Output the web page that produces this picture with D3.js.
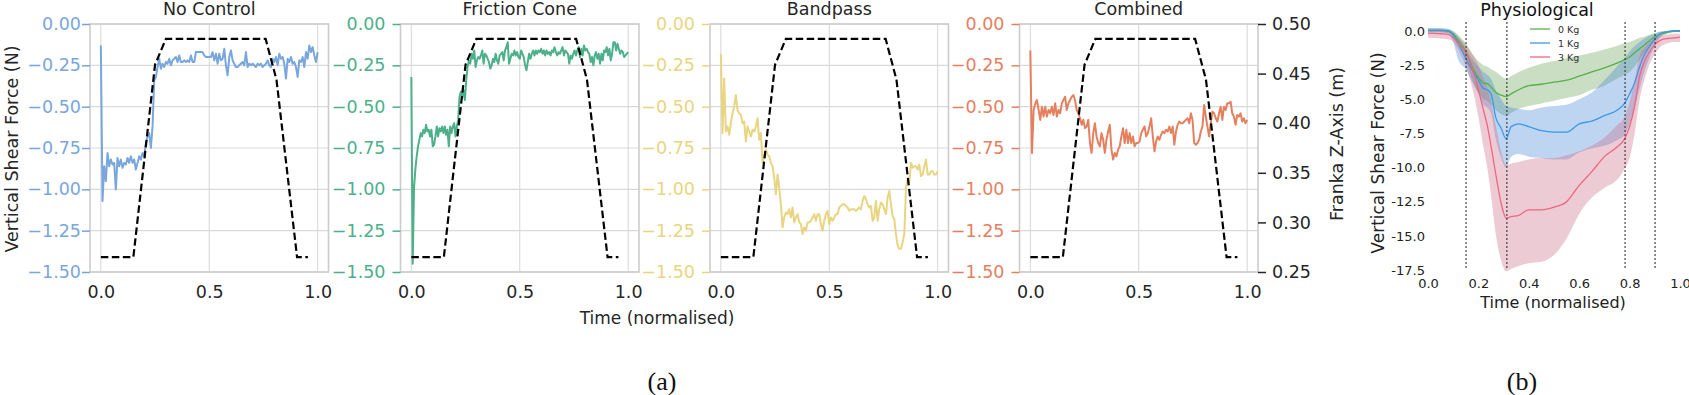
<!DOCTYPE html>
<html><head><meta charset="utf-8">
<script src="https://cdn.jsdelivr.net/npm/d3@7"></script>
<style>
body{margin:0;background:#fff}
svg{display:block}
text{font-family:"DejaVu Sans",sans-serif}
</style>
</head><body>
<svg id="c" width="1689" height="395"></svg>
<script>
// ---------- data: panel (a) ----------
const panelTitles = ["No Control", "Friction Cone", "Bandpass", "Combined"];
const timeTicks = [0, 0.5, 1];
const forceTicks = [0, -0.25, -0.5, -0.75, -1.0, -1.25, -1.5];
const zTicks = [0.25, 0.30, 0.35, 0.40, 0.45, 0.50];

const noControl = [-0.13,-1.07,-0.86,-0.95,-0.78,-0.86,-0.82,-0.85,-0.84,-1.00,-0.81,-0.86,-0.82,-0.87,-0.84,-0.85,-0.81,-0.84,-0.80,-0.84,-0.82,-0.88,-0.84,-0.80,-0.82,-0.78,-0.80,-0.72,-0.68,-0.66,-0.75,-0.62,-0.34,-0.32,-0.26,-0.21,-0.27,-0.24,-0.26,-0.23,-0.24,-0.21,-0.25,-0.22,-0.21,-0.20,-0.23,-0.19,-0.23,-0.23,-0.22,-0.23,-0.22,-0.23,-0.19,-0.23,-0.23,-0.17,-0.17,-0.17,-0.17,-0.17,-0.19,-0.20,-0.20,-0.20,-0.20,-0.17,-0.22,-0.18,-0.24,-0.18,-0.22,-0.21,-0.15,-0.25,-0.31,-0.20,-0.16,-0.22,-0.24,-0.26,-0.26,-0.25,-0.24,-0.23,-0.25,-0.17,-0.26,-0.24,-0.25,-0.24,-0.25,-0.26,-0.24,-0.25,-0.24,-0.26,-0.25,-0.24,-0.22,-0.25,-0.26,-0.21,-0.23,-0.20,-0.25,-0.18,-0.21,-0.20,-0.24,-0.33,-0.21,-0.23,-0.20,-0.24,-0.23,-0.26,-0.32,-0.22,-0.23,-0.20,-0.26,-0.17,-0.21,-0.13,-0.17,-0.14,-0.19,-0.23,-0.17];

const frictionCone = [-0.32,-1.45,-0.99,-0.88,-0.80,-0.74,-0.70,-0.66,-0.68,-0.64,-0.66,-0.61,-0.65,-0.64,-0.68,-0.64,-0.74,-0.73,-0.68,-0.62,-0.68,-0.63,-0.65,-0.62,-0.66,-0.62,-0.67,-0.64,-0.74,-0.62,-0.66,-0.62,-0.60,-0.68,-0.62,-0.58,-0.44,-0.41,-0.44,-0.40,-0.46,-0.34,-0.26,-0.22,-0.24,-0.18,-0.21,-0.16,-0.26,-0.22,-0.20,-0.21,-0.19,-0.16,-0.24,-0.18,-0.19,-0.21,-0.23,-0.27,-0.25,-0.21,-0.23,-0.18,-0.22,-0.24,-0.19,-0.18,-0.17,-0.22,-0.16,-0.14,-0.11,-0.24,-0.21,-0.18,-0.19,-0.16,-0.19,-0.17,-0.20,-0.21,-0.16,-0.18,-0.20,-0.25,-0.28,-0.23,-0.18,-0.21,-0.18,-0.16,-0.19,-0.16,-0.18,-0.16,-0.17,-0.15,-0.18,-0.16,-0.19,-0.16,-0.18,-0.17,-0.19,-0.16,-0.17,-0.14,-0.17,-0.19,-0.17,-0.18,-0.16,-0.14,-0.19,-0.16,-0.17,-0.18,-0.24,-0.19,-0.21,-0.18,-0.16,-0.19,-0.16,-0.14,-0.20,-0.15,-0.19,-0.13,-0.16,-0.15,-0.17,-0.18,-0.23,-0.20,-0.25,-0.19,-0.17,-0.21,-0.18,-0.24,-0.18,-0.22,-0.16,-0.17,-0.14,-0.19,-0.15,-0.22,-0.18,-0.11,-0.11,-0.16,-0.12,-0.15,-0.18,-0.16,-0.17,-0.20,-0.19,-0.18,-0.17];

const bandpass = [-0.18,-0.66,-0.33,-0.65,-0.62,-0.67,-0.60,-0.54,-0.50,-0.43,-0.52,-0.54,-0.55,-0.60,-0.59,-0.71,-0.62,-0.65,-0.68,-0.64,-0.65,-0.62,-0.57,-0.70,-0.66,-0.84,-0.80,-0.76,-0.79,-0.80,-0.84,-0.86,-0.93,-1.03,-0.91,-0.99,-1.09,-1.23,-1.17,-1.14,-1.15,-1.12,-1.17,-1.11,-1.20,-1.17,-1.15,-1.20,-1.21,-1.27,-1.23,-1.25,-1.20,-1.20,-1.19,-1.17,-1.15,-1.19,-1.15,-1.15,-1.21,-1.25,-1.19,-1.15,-1.13,-1.21,-1.17,-1.19,-1.17,-1.15,-1.15,
  -1.11,-1.10,-1.09,-1.09,-1.10,-1.11,-1.13,-1.12,-1.12,-1.12,-1.13,-1.12,-1.11,-1.12,-1.07,-1.04,-1.06,-1.09,-1.11,-1.10,-1.19,-1.17,-1.07,-1.19,-1.12,-1.08,-1.09,-1.12,-1.15,-1.05,-1.01,-1.09,-1.16,-1.18,-1.27,-1.34,-1.36,-1.36,-1.32,-1.27,-0.99,-0.94,-0.96,-0.84,-0.87,-0.86,-0.86,-0.88,-0.85,-0.92,-0.91,-0.86,-0.82,-0.91,-0.91,-0.89,-0.89,-0.91,-0.91,-0.89];

const combined = [-0.16,-0.78,-0.52,-0.48,-0.46,-0.52,-0.58,-0.50,-0.56,-0.50,-0.56,-0.52,-0.54,-0.50,-0.55,-0.48,-0.56,-0.52,-0.54,-0.48,-0.46,-0.44,-0.52,-0.48,-0.46,-0.44,-0.43,-0.46,-0.52,-0.54,-0.57,-0.61,-0.58,-0.63,-0.62,-0.58,-0.72,-0.78,-0.66,-0.60,-0.68,-0.72,-0.74,-0.66,-0.70,-0.78,-0.70,-0.65,-0.61,-0.76,-0.82,-0.78,-0.80,-0.76,-0.74,-0.68,-0.63,-0.72,-0.64,-0.72,-0.66,-0.72,-0.68,-0.74,-0.72,-0.72,-0.71,-0.66,-0.64,-0.62,-0.68,-0.66,-0.62,-0.57,-0.68,-0.77,-0.71,-0.68,-0.70,-0.67,-0.65,-0.66,-0.64,-0.65,-0.62,-0.66,-0.62,-0.73,-0.65,-0.61,-0.59,-0.60,-0.60,-0.59,-0.58,-0.57,-0.60,-0.54,-0.58,-0.72,-0.73,-0.72,-0.70,-0.65,-0.62,-0.49,-0.56,-0.62,-0.68,-0.60,-0.53,-0.54,-0.57,-0.59,-0.54,-0.50,-0.58,-0.50,-0.52,-0.48,-0.48,-0.47,-0.54,-0.56,-0.61,-0.55,-0.56,-0.54,-0.59,-0.57,-0.60,-0.58];

const forceSeries = [noControl, frictionCone, bandpass, combined];
const seriesColors = ["#79a6dc", "#4cb08b", "#e9d581", "#e5805f"];

// Franka Z trajectory (right axis), shared by all panels
const frankaTime = [0, 0.15, 0.25, 0.30, 0.76, 0.81, 0.905, 0.955];
const frankaZ    = [0.265, 0.265, 0.459, 0.485, 0.485, 0.444, 0.265, 0.265];

// ---------- data: panel (b) ----------
const physTime = [0,0.05,0.08,0.1,0.12,0.15,0.18,0.2,0.22,0.235,0.25,0.27,0.29,0.31,0.33,0.36,0.4,0.45,0.5,0.55,0.6,0.65,0.7,0.75,0.78,0.8,0.82,0.84,0.86,0.88,0.9,0.92,0.95,0.98,1.0];
const physLabels = ["0 Kg", "1 Kg", "3 Kg"];
const mean0 = [0.05,0.05,0.0,-0.2,-0.7,-1.5,-2.8,-3.4,-3.8,-3.85,-4.1,-4.5,-4.7,-4.8,-4.6,-4.3,-4.0,-3.9,-3.75,-3.6,-3.3,-3.0,-2.7,-2.35,-2.1,-1.9,-1.6,-1.3,-1.0,-0.7,-0.4,-0.25,-0.1,0.0,0.0];
const upper0 = [0.2,0.2,0.15,0.0,-0.3,-0.9,-1.8,-2.2,-2.5,-2.6,-2.8,-3.0,-3.3,-3.5,-3.3,-3.0,-2.7,-2.4,-2.2,-2.0,-1.8,-1.6,-1.35,-1.1,-0.9,-0.8,-0.65,-0.5,-0.4,-0.25,-0.15,-0.05,0.0,0.1,0.1];
const lower0 = [-0.1,-0.1,-0.15,-0.45,-1.1,-2.1,-3.8,-4.5,-5.0,-5.1,-5.4,-5.8,-6.1,-6.2,-6.0,-5.7,-5.5,-5.3,-5.1,-4.9,-4.7,-4.3,-4.0,-3.5,-3.2,-3.0,-2.6,-2.1,-1.6,-1.15,-0.75,-0.45,-0.2,-0.1,-0.1];
const mean1 = [0.05,0.05,0.0,-0.3,-0.9,-2.0,-3.0,-3.6,-4.2,-4.3,-4.6,-6.4,-7.1,-7.9,-7.0,-6.8,-7.0,-7.3,-7.4,-7.4,-6.8,-6.6,-6.2,-5.8,-5.3,-4.6,-3.8,-2.6,-1.7,-1.1,-0.6,-0.2,-0.05,0.0,0.0];
const upper1 = [0.2,0.2,0.15,-0.05,-0.4,-1.3,-2.2,-2.6,-3.0,-3.2,-3.5,-4.4,-5.0,-5.5,-5.6,-5.7,-5.8,-5.6,-5.5,-5.4,-5.0,-4.5,-3.6,-2.6,-2.0,-1.5,-1.1,-0.8,-0.55,-0.35,-0.2,-0.05,0.0,0.05,0.05];
const lower1 = [-0.1,-0.1,-0.15,-0.8,-2.1,-2.8,-3.9,-4.6,-5.4,-5.6,-6.0,-8.0,-9.3,-10.0,-9.2,-9.0,-9.2,-9.3,-9.4,-9.4,-8.9,-8.6,-8.4,-8.0,-7.6,-6.8,-5.6,-4.2,-2.9,-1.9,-1.1,-0.5,-0.15,-0.05,-0.05];
const mean3 = [-0.15,-0.2,-0.25,-0.5,-0.9,-1.6,-3.0,-4.3,-5.8,-6.9,-8.4,-10.6,-12.6,-13.7,-13.6,-13.5,-13.1,-13.1,-12.9,-12.5,-11.3,-10.3,-9.2,-8.5,-7.9,-7.0,-5.5,-3.3,-2.2,-1.5,-1.0,-0.7,-0.55,-0.5,-0.45];
const upper3 = [0.0,0.0,-0.05,-0.2,-0.5,-1.0,-1.8,-2.5,-3.5,-4.2,-5.2,-7.0,-8.8,-9.8,-9.7,-9.6,-9.4,-9.3,-9.3,-9.1,-8.8,-8.4,-7.8,-6.9,-6.3,-5.2,-3.6,-1.8,-1.2,-0.8,-0.5,-0.35,-0.25,-0.2,-0.2];
const lower3 = [-0.5,-0.55,-0.6,-0.8,-1.4,-2.6,-4.5,-6.3,-8.5,-10.0,-12.0,-15.0,-16.8,-17.6,-17.4,-17.2,-17.0,-16.9,-16.4,-15.2,-13.4,-12.2,-11.5,-10.9,-10.1,-9.3,-7.5,-5.0,-3.5,-2.4,-1.7,-1.2,-0.9,-0.8,-0.8];
const phaseLines = [0.151, 0.313, 0.782, 0.901];
const physXTicks = [0, 0.2, 0.4, 0.6, 0.8, 1.0];
const physYTicks = [0, -2.5, -5, -7.5, -10, -12.5, -15, -17.5];

// ---------- drawing ----------
const svg = d3.select("#c");
const ink = "#262626";
const fmt2 = d3.format(".2f");
const fmt1 = d3.format(".1f");

const panelLeft = [90, 400.5, 710, 1019.5];
const panelW = 238.5, plotTop = 24, plotBottom = 272;

const yF = d3.scaleLinear().domain([-1.5, 0]).range([plotBottom, plotTop]);
const yZ = d3.scaleLinear().domain([0.25, 0.50]).range([plotBottom, plotTop]);

panelTitles.forEach((title, p) => {
  const x = d3.scaleLinear().domain([-0.05, 1.05]).range([panelLeft[p], panelLeft[p] + panelW]);
  const g = svg.append("g");
  // grid
  g.selectAll(".gy").data(forceTicks).join("line")
    .attr("x1", x.range()[0]).attr("x2", x.range()[1])
    .attr("y1", d => yF(d)).attr("y2", d => yF(d))
    .attr("stroke", "#d9d9d9").attr("stroke-width", 1.1);
  g.selectAll(".gx").data(timeTicks).join("line")
    .attr("x1", d => x(d)).attr("x2", d => x(d))
    .attr("y1", plotTop).attr("y2", plotBottom)
    .attr("stroke", "#d9d9d9").attr("stroke-width", 1.1);
  // spines
  g.append("rect").attr("x", x.range()[0]).attr("y", plotTop)
    .attr("width", panelW).attr("height", plotBottom - plotTop)
    .attr("fill", "none").attr("stroke", "#cccccc").attr("stroke-width", 1.6);

  // y axis (coloured)
  const ya = g.append("g").attr("transform", `translate(${x.range()[0]},0)`)
    .call(d3.axisLeft(yF).tickValues(forceTicks).tickFormat(fmt2).tickSize(8).tickPadding(p === 0 ? 1 : 7));
  ya.select(".domain").remove();
  ya.selectAll("line").attr("stroke", seriesColors[p]).attr("stroke-width", 1.5);
  ya.selectAll("text").attr("fill", seriesColors[p]).style("font-size", "17.5px")
    .style("font-family", "DejaVu Sans");

  // x axis labels
  const xa = g.append("g").attr("transform", `translate(0,${plotBottom})`)
    .call(d3.axisBottom(x).tickValues(timeTicks).tickFormat(fmt1).tickSize(0).tickPadding(14));
  xa.select(".domain").remove();
  xa.selectAll("text").attr("fill", ink).style("font-size", "17.5px").style("font-family", "DejaVu Sans");

  // force series
  const vals = forceSeries[p];
  const line = d3.line().x((d, i) => x(i / (vals.length - 1))).y(d => yF(d));
  g.append("path").datum(vals).attr("d", line)
    .attr("fill", "none").attr("stroke", seriesColors[p]).attr("stroke-width", 2)
    .attr("stroke-linejoin", "round");

  // franka z dashed
  const zl = d3.line().x((d, i) => x(frankaTime[i])).y(d => yZ(d));
  g.append("path").datum(frankaZ).attr("d", zl)
    .attr("fill", "none").attr("stroke", "#000").attr("stroke-width", 2.2)
    .attr("stroke-dasharray", "7.5,3.5");

  // title
  g.append("text").attr("x", (x.range()[0] + x.range()[1]) / 2).attr("y", 15)
    .attr("text-anchor", "middle").attr("fill", ink).style("font-size", "17.5px").text(title);

  if (p === 3) {
    const ra = g.append("g").attr("transform", `translate(${x.range()[1]},0)`)
      .call(d3.axisRight(yZ).tickValues(zTicks).tickFormat(fmt2).tickSize(8).tickPadding(6));
    ra.select(".domain").remove();
    ra.selectAll("line").attr("stroke", ink).attr("stroke-width", 1.5);
    ra.selectAll("text").attr("fill", ink).style("font-size", "17.5px").style("font-family", "DejaVu Sans");
  }
});

// axis labels (a)
svg.append("text").attr("transform", "translate(18,149) rotate(-90)")
  .attr("text-anchor", "middle").attr("fill", ink).style("font-size", "17.5px")
  .text("Vertical Shear Force (N)");
svg.append("text").attr("transform", "translate(1343,144) rotate(-90)")
  .attr("text-anchor", "middle").attr("fill", ink).style("font-size", "17.5px")
  .text("Franka Z-Axis (m)");
svg.append("text").attr("x", 657).attr("y", 324).attr("text-anchor", "middle")
  .attr("fill", ink).style("font-size", "17px").text("Time (normalised)");

// ---------- panel (b) ----------
const xP = d3.scaleLinear().domain([0, 1]).range([1428, 1680]);
const yP = d3.scaleLinear().domain([-17.5, 0]).range([270, 31]);
const gb = svg.append("g");
const physColors = ["#55b148", "#3d98e6", "#ef6680"];
const physFills = ["#5a9a4a", "#3a80d6", "#c8627e"];
const bands = [[lower0, upper0], [lower1, upper1], [lower3, upper3]];
const means = [mean0, mean1, mean3];

bands.forEach(([lo, hi], k) => {
  const area = d3.area().x((d, i) => xP(physTime[i])).y0((d, i) => yP(lo[i])).y1((d, i) => yP(hi[i]))
    .curve(d3.curveMonotoneX);
  gb.append("path").datum(physTime).attr("d", area)
    .attr("fill", physFills[k]).attr("fill-opacity", 0.33).attr("stroke", "none");
});
means.forEach((m, k) => {
  const ln = d3.line().x((d, i) => xP(physTime[i])).y(d => yP(d)).curve(d3.curveMonotoneX);
  gb.append("path").datum(m).attr("d", ln)
    .attr("fill", "none").attr("stroke", physColors[k]).attr("stroke-width", 1.3);
});
gb.selectAll(".ph").data(phaseLines).join("line")
  .attr("x1", d => xP(d)).attr("x2", d => xP(d)).attr("y1", 22).attr("y2", 270)
  .attr("stroke", "#333").attr("stroke-width", 1.1).attr("stroke-dasharray", "2,2");

const hyphenFmt = d3.formatLocale({decimal: ".", thousands: ",", grouping: [3], currency: ["", ""], minus: "-"}).format(".1f");
const pya = gb.append("g").attr("transform", `translate(1428,0)`)
  .call(d3.axisLeft(yP).tickValues(physYTicks).tickFormat(hyphenFmt).tickSize(0).tickPadding(3));
pya.select(".domain").remove();
pya.selectAll("text").attr("fill", "#222").style("font-size", "13px").style("font-family", "DejaVu Sans");
const pxa = gb.append("g").attr("transform", `translate(0,270)`)
  .call(d3.axisBottom(xP).tickValues(physXTicks).tickFormat(hyphenFmt).tickSize(0).tickPadding(9));
pxa.select(".domain").remove();
pxa.selectAll("text").attr("fill", "#222").style("font-size", "13px").style("font-family", "DejaVu Sans");

gb.append("text").attr("x", 1537).attr("y", 16).attr("text-anchor", "middle")
  .attr("fill", "#111").style("font-size", "17.5px").text("Physiological");
gb.append("text").attr("x", 1553).attr("y", 308).attr("text-anchor", "middle")
  .attr("fill", "#222").style("font-size", "16px").text("Time (normalised)");
gb.append("text").attr("transform", "translate(1384,153) rotate(-90)")
  .attr("text-anchor", "middle").attr("fill", "#222").style("font-size", "17px")
  .text("Vertical Shear Force (N)");

physLabels.forEach((lab, k) => {
  const yy = 29 + k * 14;
  gb.append("line").attr("x1", 1530).attr("x2", 1550).attr("y1", yy).attr("y2", yy)
    .attr("stroke", physColors[k]).attr("stroke-width", 1.3);
  gb.append("text").attr("x", 1558).attr("y", yy + 3.5).attr("fill", "#333")
    .style("font-size", "9.5px").text(lab);
});

// sub-figure captions
svg.append("text").attr("x", 662).attr("y", 390).attr("text-anchor", "middle")
  .style("font-family", "'Liberation Serif', serif").style("font-size", "26px").attr("fill", "#111").text("(a)");
svg.append("text").attr("x", 1522).attr("y", 390).attr("text-anchor", "middle")
  .style("font-family", "'Liberation Serif', serif").style("font-size", "26px").attr("fill", "#111").text("(b)");
</script>
</body></html>
